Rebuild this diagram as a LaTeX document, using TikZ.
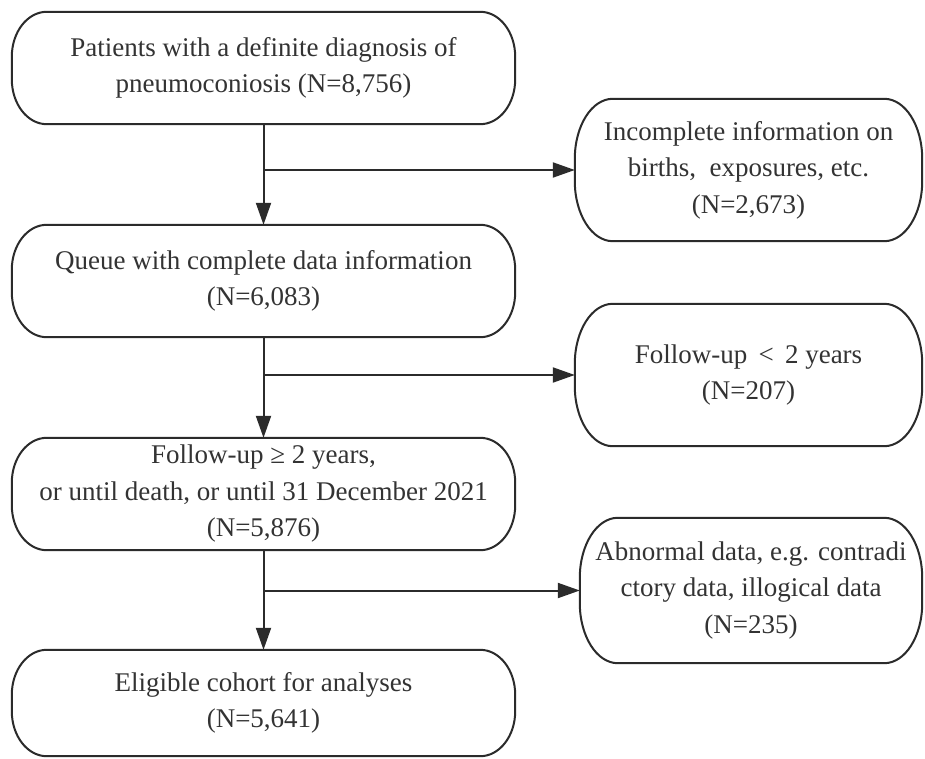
\documentclass[tikz,border=0pt]{standalone}
\usepackage{fontspec}
\setmainfont{Liberation Serif}
\usetikzlibrary{arrows.meta,calc}
\definecolor{ink}{HTML}{2B2B2B}
\definecolor{txt}{HTML}{333333}
% #1 node name, #2 horizontal corner radius, #3 vertical corner radius
\newcommand\capsuleoutline[3]{%
  \draw[outline] ([xshift=#2]#1.north west) -- ([xshift=-#2]#1.north east)
    arc[start angle=90,end angle=0,x radius=#2,y radius=#3]
    -- ([yshift=#3]#1.south east)
    arc[start angle=0,end angle=-90,x radius=#2,y radius=#3]
    -- ([xshift=#2]#1.south west)
    arc[start angle=270,end angle=180,x radius=#2,y radius=#3]
    -- ([yshift=-#3]#1.north west)
    arc[start angle=180,end angle=90,x radius=#2,y radius=#3] -- cycle;}
\begin{document}
\begin{tikzpicture}[x=1pt,y=-1pt,
  box/.style={draw=none, inner sep=0pt, align=center,
    font=\fontsize{27}{36.5}\selectfont, text=txt},
  leftbox/.style={box, minimum width=503pt, minimum height=112pt},
  rightbox/.style={box, minimum width=347pt, minimum height=142pt},
  outline/.style={draw=ink, line width=2pt},
  conn/.style={draw=ink, line width=2pt, -{Triangle[length=22pt,width=15pt]}}]
\fill[white] (0,0) rectangle (925,759);
% main column
\node[leftbox] (b1) at (263.5,68) {Patients with a definite diagnosis of\\pneumoconiosis (N=8,756)};
\node[leftbox] (b2) at (263.5,281) {Queue with complete data information\\(N=6,083)};
\node[leftbox] (b3) at (263.5,494) {Follow-up ≥ 2 years,\\or until death, or until 31 December 2021\\(N=5,876)};
\node[leftbox, minimum height=106pt] (b4) at (263.5,703) {Eligible cohort for analyses\\(N=5,641)};
% exclusion column
\node[rightbox] (r1) at (748.5,170) {Incomplete information on\\births,\ \ exposures, etc.\\(N=2,673)};
\node[rightbox] (r2) at (748.5,375) {Follow-up \,<\, 2 years\\(N=207)};
\node[rightbox, minimum width=342pt, minimum height=145pt] (r3) at (751,590.5) {Abnormal data, e.g. contradi\\ctory data, illogical data\\(N=235)};
% outlines
\capsuleoutline{b1}{35pt}{45pt}
\capsuleoutline{b2}{35pt}{45pt}
\capsuleoutline{b3}{35pt}{45pt}
\capsuleoutline{b4}{35pt}{45pt}
\capsuleoutline{r1}{38pt}{60pt}
\capsuleoutline{r2}{38pt}{60pt}
\capsuleoutline{r3}{38pt}{60pt}
% connectors
\draw[conn] (b1.south) -- (b2.north);
\draw[conn] (b2.south) -- (b3.north);
\draw[conn] (b3.south) -- (b4.north);
\coordinate (j1) at (b1.south |- r1.west);
\coordinate (j2) at (b2.south |- r2.west);
\coordinate (j3) at (b3.south |- r3.west);
\draw[conn] (j1) -- (r1.west);
\draw[conn] (j2) -- (r2.west);
\draw[conn] (j3) -- (r3.west);
\end{tikzpicture}
\end{document}
